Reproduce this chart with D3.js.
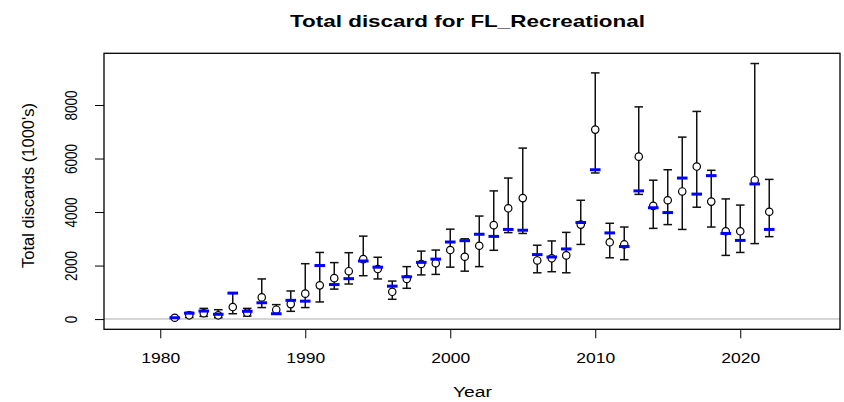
<!DOCTYPE html>
<html>
<head>
<meta charset="utf-8">
<script src="https://cdn.jsdelivr.net/npm/d3@7"></script>
<style>
  html, body { margin: 0; padding: 0; background: #fff; }
  svg text { font-family: "Liberation Sans", Arial, sans-serif; fill: #000; }
</style>
</head>
<body>
<svg id="chart" width="844" height="402"></svg>
<script>
// Annual discard estimates (numbers in 1000's of fish)
const years = d3.range(1981, 2023);
const estimate = [50, 140, 220, 140, 450, 240, 810, 350, 560, 950,
  1260, 1530, 1790, 2240, 1870, 1020, 1500, 2060, 2090, 2580,
  2330, 2740, 3510, 4140, 4520, 2190, 2270, 2380, 3530, 7080,
  2870, 2790, 6070, 4230, 4440, 4770, 5700, 4390, 3280, 3280,
  5190, 4010];
const reference = [50, 220, 300, 180, 970, 290, 610, 200, 700, 670,
  2000, 1290, 1510, 2170, 1940, 1230, 1580, 2120, 2240, 2880,
  2930, 3170, 3090, 3350, 3320, 2410, 2320, 2620, 3610, 5580,
  3220, 2710, 4790, 4160, 3980, 5270, 4670, 5360, 3200, 2940,
  5050, 3350];
const upper = [90, 250, 400, 350, 970, 400, 1500, 540, 1050, 2070,
  2490, 2110, 2480, 3100, 2310, 1420, 1960, 2540, 2580, 3360,
  3000, 3850, 4790, 5270, 6390, 2760, 2920, 3240, 4440, 9200,
  3580, 3440, 7930, 5190, 5580, 6800, 7760, 5560, 4490, 4260,
  9550, 5220];
const lower = [20, 60, 100, 50, 200, 110, 430, 200, 290, 430,
  640, 1120, 1310, 1620, 1500, 740, 1150, 1650, 1670, 1940,
  1790, 1960, 2570, 3230, 3200, 1730, 1770, 1730, 2790, 5460,
  2290, 2220, 4660, 3390, 3530, 3350, 4180, 3440, 2380, 2490,
  2820, 3080];
const xTicks = [1980, 1990, 2000, 2010, 2020];
const yTicks = [0, 2000, 4000, 6000, 8000];

const rows = years.map((y, i) => ({
  year: y, est: estimate[i], ref: reference[i], hi: upper[i], lo: lower[i]
}));

const plot = { left: 104, right: 840, top: 53.3, bottom: 329.3 };
const svg = d3.select("#chart");

// Axis limits padded by 4% on each side
const xlim = [d3.min(years) - 3, d3.max(years) + 3];
const ylim = [0, d3.max(upper)];
const pad = (l) => { const d = (l[1] - l[0]) * 0.04; return [l[0] - d, l[1] + d]; };

const x = d3.scaleLinear().domain(pad(xlim)).range([plot.left, plot.right]);
const y = d3.scaleLinear().domain(pad(ylim)).range([plot.bottom, plot.top]);

// Zero reference line
svg.append("line")
  .attr("x1", plot.left).attr("x2", plot.right)
  .attr("y1", y(0)).attr("y2", y(0))
  .attr("stroke", "#c8c8c8").attr("stroke-width", 1.5);

// X axis
const xAxis = svg.append("g")
  .attr("transform", `translate(0,${plot.bottom})`)
  .call(d3.axisBottom(x).tickValues(xTicks).tickFormat(d3.format("d")).tickSize(9).tickSizeOuter(0));
xAxis.select(".domain").remove();
xAxis.selectAll(".tick line").attr("stroke", "#000").attr("stroke-width", 1);
xAxis.selectAll(".tick text")
  .attr("y", 33.4).attr("dy", null)
  .attr("font-size", 15.4)
  .attr("textLength", 39).attr("lengthAdjust", "spacingAndGlyphs")
  .attr("font-family", "Liberation Sans, Arial, sans-serif");

// Y axis
const yAxis = svg.append("g")
  .attr("transform", `translate(${plot.left},0)`)
  .call(d3.axisLeft(y).tickValues(yTicks).tickFormat(d3.format("d")).tickSize(9).tickSizeOuter(0));
yAxis.select(".domain").remove();
yAxis.selectAll(".tick line").attr("stroke", "#000").attr("stroke-width", 1);
yAxis.selectAll(".tick text")
  .attr("x", null).attr("dy", null)
  .attr("text-anchor", "middle")
  .attr("transform", "translate(-27.3,0) rotate(-90)")
  .attr("font-size", 16)
  .attr("font-family", "Liberation Sans, Arial, sans-serif")
  .each(function (d) {
    const s = String(d);
    d3.select(this).attr("textLength", s.length * 7.5).attr("lengthAdjust", "spacingAndGlyphs");
  });

// Plot frame
svg.append("rect")
  .attr("x", plot.left).attr("y", plot.top)
  .attr("width", plot.right - plot.left).attr("height", plot.bottom - plot.top)
  .attr("fill", "none").attr("stroke", "#000").attr("stroke-width", 1.3);

// Error bars
const cap = 4.3;
const bars = svg.append("g").attr("stroke", "#111").attr("stroke-width", 1.5);
bars.selectAll("line.v").data(rows).join("line").attr("class", "v")
  .attr("x1", d => x(d.year)).attr("x2", d => x(d.year))
  .attr("y1", d => y(d.hi)).attr("y2", d => y(d.lo));
bars.selectAll("line.hi").data(rows).join("line").attr("class", "hi")
  .attr("x1", d => x(d.year) - cap).attr("x2", d => x(d.year) + cap)
  .attr("y1", d => y(d.hi)).attr("y2", d => y(d.hi));
bars.selectAll("line.lo").data(rows).join("line").attr("class", "lo")
  .attr("x1", d => x(d.year) - cap).attr("x2", d => x(d.year) + cap)
  .attr("y1", d => y(d.lo)).attr("y2", d => y(d.lo));

// Point estimates
svg.append("g").selectAll("circle").data(rows).join("circle")
  .attr("cx", d => x(d.year)).attr("cy", d => y(d.est))
  .attr("r", 3.7)
  .attr("fill", "#fff").attr("stroke", "#000").attr("stroke-width", 1.2);

// Reference values (blue dashes)
svg.append("g").selectAll("line").data(rows).join("line")
  .attr("x1", d => x(d.year) - 5.3).attr("x2", d => x(d.year) + 5.3)
  .attr("y1", d => y(d.ref)).attr("y2", d => y(d.ref))
  .attr("stroke", "#0000ff").attr("stroke-width", 3);

// Titles
svg.append("text")
  .attr("x", 467.5).attr("y", 27)
  .attr("text-anchor", "middle")
  .attr("font-size", 16.3).attr("font-weight", "bold")
  .attr("textLength", 355).attr("lengthAdjust", "spacingAndGlyphs")
  .text("Total discard for FL_Recreational");

svg.append("text")
  .attr("x", 472.5).attr("y", 396.7)
  .attr("text-anchor", "middle")
  .attr("font-size", 14)
  .attr("textLength", 39).attr("lengthAdjust", "spacingAndGlyphs")
  .text("Year");

svg.append("text")
  .attr("transform", "translate(33.5,185.5) rotate(-90)")
  .attr("text-anchor", "middle")
  .attr("font-size", 16)
  .attr("textLength", 165).attr("lengthAdjust", "spacingAndGlyphs")
  .text("Total discards (1000's)");
</script>
</body>
</html>
